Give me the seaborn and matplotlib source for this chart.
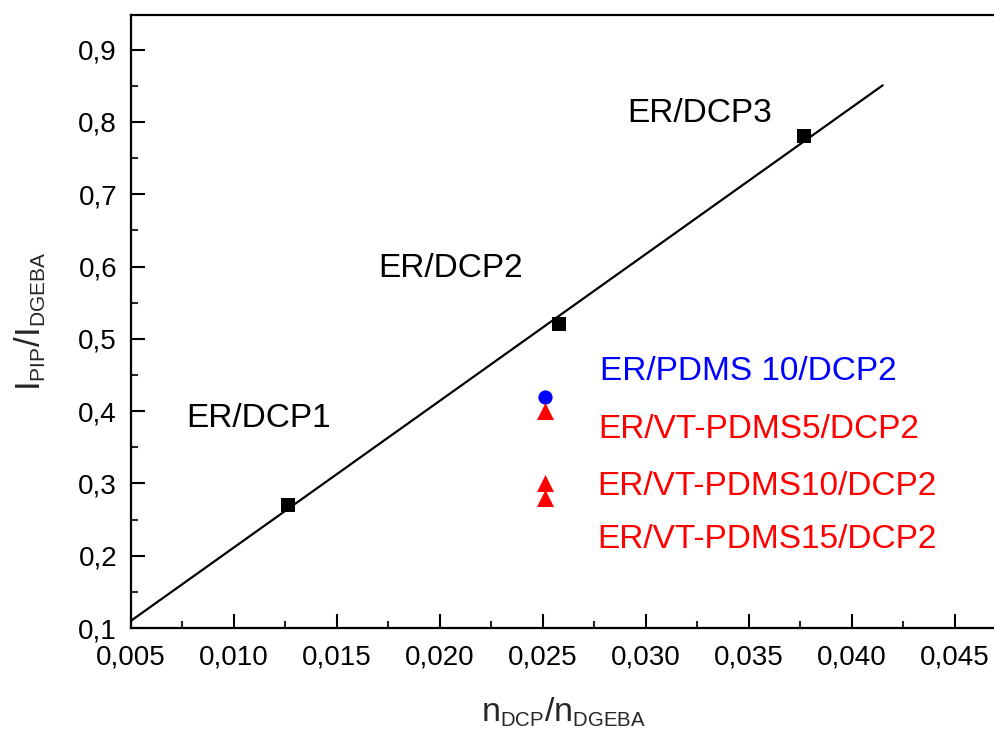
import numpy as np
import pandas as pd
import matplotlib
matplotlib.use("Agg")
import matplotlib.pyplot as plt
import matplotlib._mathtext as mathtext_internal
from matplotlib.ticker import FuncFormatter, MultipleLocator
import seaborn as sns

# Molar ratio DCP/DGEBA and intensity ratio PIP/DGEBA
x_dcp = [0.0126, 0.0258, 0.0377]
y_dcp = [0.27, 0.52, 0.78]
labels_dcp = ["ER/DCP1", "ER/DCP2", "ER/DCP3"]

x_pdms = [0.0251]
y_pdms = [0.42]
label_pdms = "ER/PDMS 10/DCP2"

x_vt = [0.0251, 0.0251, 0.0251]
y_vt = [0.40, 0.30, 0.28]
labels_vt = ["ER/VT-PDMS5/DCP2", "ER/VT-PDMS10/DCP2", "ER/VT-PDMS15/DCP2"]

fit_range = [0.005, 0.0415]

x_ticks = [0.005, 0.010, 0.015, 0.020, 0.025, 0.030, 0.035, 0.040, 0.045]
y_ticks = [0.1, 0.2, 0.3, 0.4, 0.5, 0.6, 0.7, 0.8, 0.9]

sns.set_theme(style="ticks")
plt.rcParams["font.family"] = ["Liberation Sans", "DejaVu Sans"]
plt.rcParams["mathtext.fontset"] = "custom"
plt.rcParams["mathtext.rm"] = "Liberation Sans"
plt.rcParams["mathtext.it"] = "Liberation Sans"
# smaller subscripts in the axis labels
mathtext_internal.SHRINK_FACTOR = 0.6

fig = plt.figure(figsize=(9.95, 7.31), dpi=100)
ax = fig.add_axes([131 / 995, 103 / 731, 865 / 995, 613 / 731])

# Linear fit through the DCP series
slope, intercept = np.polyfit(x_dcp, y_dcp, 1)
fit_df = pd.DataFrame({"x": fit_range, "y": [slope * v + intercept for v in fit_range]})
sns.lineplot(data=fit_df, x="x", y="y", color="black", linewidth=1.6, ax=ax)

df_dcp = pd.DataFrame({"x": x_dcp, "y": y_dcp})
df_pdms = pd.DataFrame({"x": x_pdms, "y": y_pdms})
df_vt = pd.DataFrame({"x": x_vt, "y": y_vt})
sns.scatterplot(data=df_dcp, x="x", y="y", marker="s", s=95, color="black",
                edgecolor="black", linewidth=0, ax=ax, zorder=3)
sns.scatterplot(data=df_pdms, x="x", y="y", marker="o", s=105, color="#0000ff",
                edgecolor="#0000ff", linewidth=0, ax=ax, zorder=3)
sns.scatterplot(data=df_vt, x="x", y="y", marker="^", s=150, color="#ff0000",
                edgecolor="#ff0000", linewidth=0, ax=ax, zorder=4)

ax.set_xlim(0.005, 0.047)
ax.set_ylim(0.1, 0.948)
ax.set_xticks(x_ticks)
ax.set_yticks(y_ticks)
ax.xaxis.set_minor_locator(MultipleLocator(0.0025))
ax.yaxis.set_minor_locator(MultipleLocator(0.05))
ax.xaxis.set_major_formatter(FuncFormatter(lambda v, p: f"{v:.3f}".replace(".", ",")))
ax.yaxis.set_major_formatter(FuncFormatter(lambda v, p: f"{v:.1f}".replace(".", ",")))

ax.tick_params(which="major", direction="in", length=10, width=1.5,
               labelsize=20, colors="black", top=False, right=False)
ax.tick_params(axis="x", which="major", pad=12)
ax.tick_params(axis="y", which="major", pad=10)
ax.tick_params(which="minor", direction="in", length=5, width=1.5,
               top=False, right=False)
for side in ["left", "bottom", "top"]:
    ax.spines[side].set_linewidth(1.6)
    ax.spines[side].set_color("black")
ax.spines["right"].set_visible(False)

ax.set_xlabel(r"$\mathregular{n_{DCP}/n_{DGEBA}}$", fontsize=24.5, labelpad=18)
ax.set_ylabel(r"$\mathregular{I_{PIP}/I_{DGEBA}}$", fontsize=25, labelpad=22)

# Sample annotations
txt = dict(fontsize=24, ha="left", va="baseline")
ax.text(0.00767, 0.378, labels_dcp[0], color="black", **txt)
ax.text(0.01699, 0.5855, labels_dcp[1], color="black", **txt)
ax.text(0.02908, 0.800, labels_dcp[2], color="black", **txt)
ax.text(0.02777, 0.443, label_pdms, color="#0000ff", **txt)
ax.text(0.02767, 0.3628, labels_vt[0], color="#ff0000", **txt)
ax.text(0.02762, 0.284, labels_vt[1], color="#ff0000", **txt)
ax.text(0.02762, 0.2107, labels_vt[2], color="#ff0000", **txt)

fig.savefig("out.png", dpi=100, facecolor="white")
